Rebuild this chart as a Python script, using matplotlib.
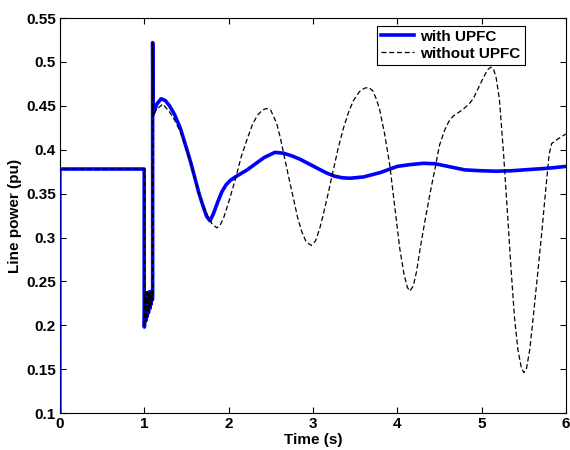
import matplotlib
matplotlib.use('Agg')
import matplotlib.pyplot as plt

plt.rcParams['font.family'] = ['Liberation Sans', 'DejaVu Sans']
plt.rcParams['font.weight'] = 'bold'
plt.rcParams['font.size'] = 11

# shared disturbance transient (0 .. 1.1 s)
t_fault = [0.0, 0.0, 1.0, 1.0, 1.002, 1.01, 1.018, 1.026, 1.034, 1.042, 1.05, 1.058,
           1.066, 1.074, 1.082, 1.09, 1.097, 1.1, 1.1, 1.104]
p_fault = [0.1, 0.378, 0.378, 0.236, 0.198, 0.236, 0.205, 0.237, 0.210, 0.237, 0.214,
           0.238, 0.219, 0.238, 0.224, 0.239, 0.229, 0.235, 0.522, 0.44]

# with UPFC
t_upfc = [1.15, 1.2, 1.25, 1.3, 1.36, 1.43, 1.5, 1.55, 1.6, 1.65, 1.7, 1.74, 1.78, 1.82,
          1.87, 1.92, 1.97, 2.02, 2.08, 2.15, 2.22, 2.32, 2.42, 2.55, 2.65, 2.75, 2.85,
          2.95, 3.05, 3.15, 3.25, 3.35, 3.44, 3.6, 3.8, 4.0, 4.15, 4.31, 4.45, 4.6,
          4.8, 5.0, 5.17, 5.35, 5.5, 5.65, 5.8, 6.0]
p_upfc = [0.452, 0.458, 0.456, 0.450, 0.440, 0.424, 0.402, 0.386, 0.368, 0.350, 0.335,
          0.324, 0.319, 0.327, 0.340, 0.352, 0.360, 0.365, 0.369, 0.373, 0.377, 0.384,
          0.391, 0.397, 0.396, 0.393, 0.389, 0.384, 0.379, 0.374, 0.370, 0.368, 0.3675,
          0.369, 0.374, 0.381, 0.383, 0.3845, 0.384, 0.381, 0.377, 0.376, 0.3755,
          0.376, 0.377, 0.378, 0.379, 0.381]

# without UPFC
t_no = [1.15, 1.22, 1.3, 1.36, 1.43, 1.5, 1.55, 1.6, 1.65, 1.7, 1.75, 1.8, 1.86, 1.90,
        1.94, 2.0, 2.08, 2.15, 2.22, 2.28, 2.34, 2.40, 2.45, 2.50, 2.57, 2.61, 2.65,
        2.71, 2.77, 2.82, 2.87, 2.92, 2.98, 3.03, 3.08, 3.12, 3.18, 3.24, 3.30, 3.36,
        3.42, 3.48, 3.55, 3.61, 3.66, 3.71, 3.75, 3.79, 3.85, 3.91, 3.97, 4.03, 4.08,
        4.12, 4.15, 4.19, 4.23, 4.27, 4.33, 4.39, 4.45, 4.50, 4.56, 4.61, 4.66, 4.72,
        4.78, 4.85, 4.90, 4.96, 5.02, 5.07, 5.11, 5.14, 5.17, 5.21, 5.26, 5.31, 5.35,
        5.39, 5.43, 5.47, 5.50, 5.53, 5.57, 5.61, 5.66, 5.71, 5.76, 5.80, 5.83, 5.9, 6.0]
p_no = [0.446, 0.452, 0.443, 0.434, 0.420, 0.400, 0.386, 0.368, 0.350, 0.336, 0.325,
        0.316, 0.311, 0.314, 0.322, 0.340, 0.366, 0.392, 0.412, 0.428, 0.439, 0.445,
        0.447, 0.445, 0.430, 0.415, 0.397, 0.370, 0.344, 0.322, 0.306, 0.295, 0.291,
        0.296, 0.310, 0.325, 0.350, 0.376, 0.402, 0.424, 0.442, 0.456, 0.466, 0.470,
        0.471, 0.467, 0.458, 0.446, 0.418, 0.383, 0.335, 0.287, 0.258, 0.243, 0.239,
        0.245, 0.262, 0.287, 0.320, 0.351, 0.380, 0.405, 0.422, 0.432, 0.438, 0.442,
        0.446, 0.452, 0.458, 0.470, 0.482, 0.491, 0.494, 0.492, 0.483, 0.458, 0.395,
        0.322, 0.262, 0.208, 0.172, 0.152, 0.146, 0.150, 0.172, 0.208, 0.255, 0.303,
        0.355, 0.395, 0.407, 0.412, 0.418]

fig = plt.figure(figsize=(5.7, 4.5), dpi=100)
ax = fig.add_axes([0.105, 0.082, 0.888, 0.878])

ax.plot(t_fault + t_upfc, p_fault + p_upfc, color='#0000ff', linewidth=2.6,
        label='with UPFC', zorder=3)
ax.plot(t_fault + t_no, p_fault + p_no, color='black', linewidth=0.9,
        linestyle=(0, (4, 2.2)), label='without UPFC', zorder=3)

ax.set_xlim(0, 6)
ax.set_ylim(0.1, 0.55)
ax.set_xticks(range(0, 7))
ax.set_yticks([0.1, 0.15, 0.2, 0.25, 0.3, 0.35, 0.4, 0.45, 0.5, 0.55])
ax.set_yticklabels(['0.1', '0.15', '0.2', '0.25', '0.3', '0.35', '0.4', '0.45', '0.5', '0.55'])
ax.tick_params(direction='in', top=True, right=True, length=4, labelsize=11, pad=3)
for s in ax.spines.values():
    s.set_linewidth(0.8)

ax.set_xlabel('Time (s)', fontsize=11, fontweight='bold', labelpad=1)
ax.set_ylabel('Line power (pu)', fontsize=11, fontweight='bold', labelpad=3)

leg = ax.legend(loc='upper right', bbox_to_anchor=(0.918, 0.98), fancybox=False,
                framealpha=1, edgecolor='black', handlelength=2.2, borderpad=0.25,
                labelspacing=0.2, handletextpad=0.4, borderaxespad=0,
                prop={'weight': 'bold', 'size': 11})
leg.get_frame().set_linewidth(0.8)

fig.savefig('out.png', dpi=100)
